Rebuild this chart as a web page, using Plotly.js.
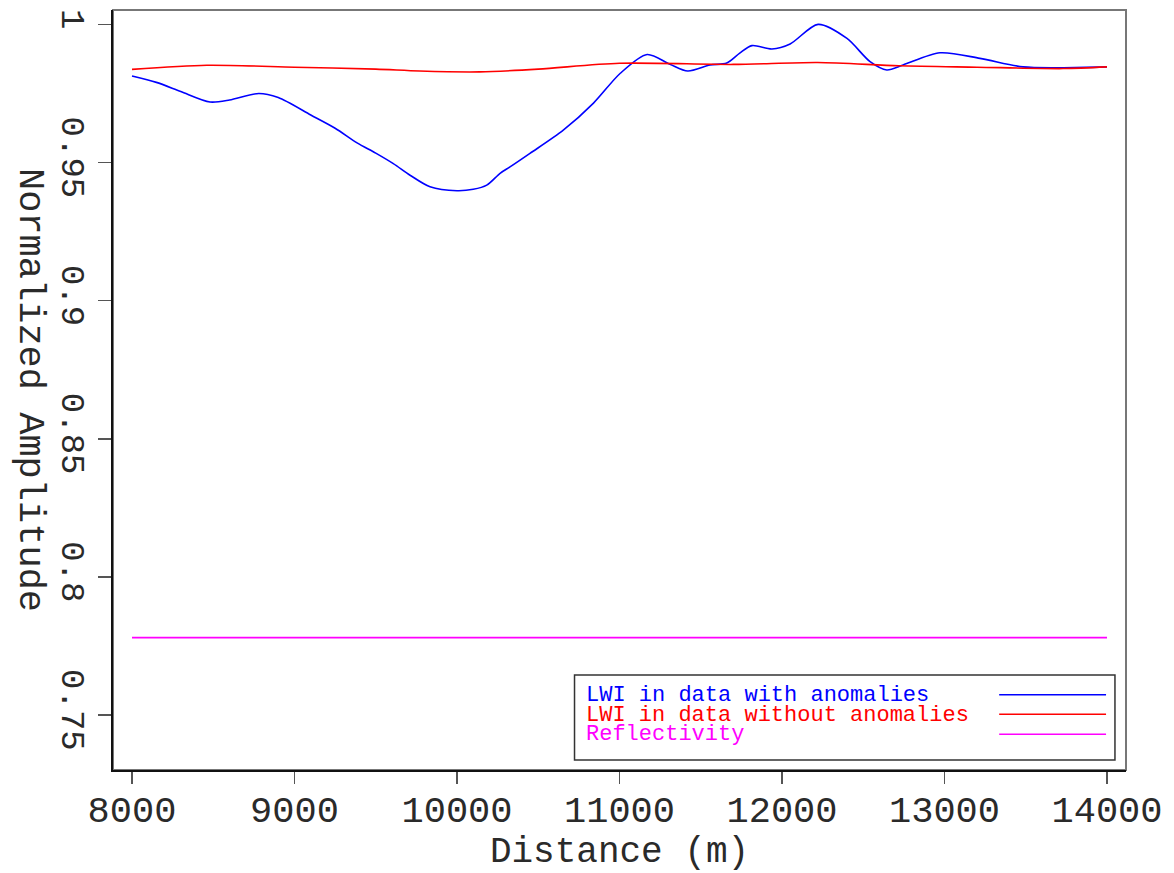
<!DOCTYPE html>
<html>
<head>
<meta charset="utf-8">
<script src="https://cdn.plot.ly/plotly-3.0.1.min.js"></script>
<style>html,body{margin:0;padding:0;background:#fff;}#chart{width:1174px;height:873px;}</style>
</head>
<body>
<div id="chart"></div>
<script>
// ---- data ----
const seriesNames = ["LWI in data with anomalies", "LWI in data without anomalies", "Reflectivity"];
const seriesColors = ["#0000ff", "#ff0000", "#ff00ff"];

const xWith = [8000, 8150, 8300, 8480, 8600, 8780, 8900, 9100, 9250, 9385, 9500, 9608, 9711, 9834, 10000, 10100, 10183, 10265, 10326, 10449, 10654, 10840, 11005, 11170, 11310, 11420, 11557, 11660, 11740, 11815, 11938, 12050, 12222, 12400, 12542, 12645, 12745, 12972, 13218, 13483, 13730, 14000];
const yWith = [0.9813, 0.9790, 0.9757, 0.9719, 0.9726, 0.9750, 0.9735, 0.9672, 0.9624, 0.9571, 0.9534, 0.9496, 0.9454, 0.9412, 0.9398, 0.9403, 0.9418, 0.9461, 0.9484, 0.9533, 0.9617, 0.9715, 0.9823, 0.9891, 0.9856, 0.9831, 0.9853, 0.9860, 0.9896, 0.9923, 0.9911, 0.9929, 1.0000, 0.9949, 0.9865, 0.9835, 0.9853, 0.9897, 0.9877, 0.9846, 0.9843, 0.9846];

const xWithout = [8000, 8460, 9000, 9500, 9770, 10140, 10500, 11000, 11700, 12220, 12720, 13200, 13730, 14000];
const yWithout = [0.9837, 0.9852, 0.9845, 0.9838, 0.9831, 0.9828, 0.9838, 0.9859, 0.9855, 0.9862, 0.9850, 0.9845, 0.9840, 0.9846];

const xRefl = [8000, 14000];
const yRefl = [0.778, 0.778];

const xTickVals = [8000, 9000, 10000, 11000, 12000, 13000, 14000];
const xTickText = ["8000", "9000", "10000", "11000", "12000", "13000", "14000"];
const yTickVals = [0.75, 0.8, 0.85, 0.9, 0.95, 1];
const yTickText = ["0.75", "0.8", "0.85", "0.9", "0.95", "1"];

const xTitle = "Distance (m)";
const yTitle = "Normalized Amplitude";

// ---- chart ----
const FONT = "Liberation Mono, DejaVu Sans Mono, monospace";
const TXT = "#2a2a2a";
const xs = [xWith, xWithout, xRefl];
const ys = [yWith, yWithout, yRefl];
const traces = xs.map((x, i) => ({
  x: x, y: ys[i], type: "scatter", mode: "lines", name: seriesNames[i],
  line: {color: seriesColors[i], width: 1.6, shape: "spline", smoothing: 0.8},
  showlegend: false
}));

// custom legend (text left, sample line right) built from the series arrays
const legX0 = 0.4556, legX1 = 0.9891, legY0 = 0.0132, legY1 = 0.125;
const rowY = [0.098, 0.0723, 0.0461];
const shapes = [
  {type: "rect", xref: "paper", yref: "paper", x0: 0, x1: 1, y0: 0, y1: 1, line: {color: "#777", width: 2}, layer: "below"},
  {type: "rect", xref: "paper", yref: "paper", x0: legX0, x1: legX1, y0: legY0, y1: legY1, line: {color: "#333", width: 1.5}, fillcolor: "rgba(0,0,0,0)"}
];
const annotations = [];
seriesNames.forEach((n, i) => {
  annotations.push({xref: "paper", yref: "paper", x: 0.4655, y: rowY[i], xanchor: "left", yanchor: "middle",
    text: n, showarrow: false, borderpad: 0, font: {family: FONT, size: 22, color: seriesColors[i]}});
  shapes.push({type: "line", xref: "paper", yref: "paper", x0: 0.8748, x1: 0.9803, y0: rowY[i] + 0.001, y1: rowY[i] + 0.001,
    line: {color: seriesColors[i], width: 1.6}});
});
annotations.push({xref: "paper", yref: "paper", x: -0.0819, y: 0.5, xanchor: "center", yanchor: "middle",
  text: yTitle, textangle: 90, showarrow: false, font: {family: FONT, size: 37, color: TXT}});

const layout = {
  width: 1174, height: 873,
  margin: {l: 113, r: 48, t: 10, b: 103},
  paper_bgcolor: "#fff", plot_bgcolor: "#fff",
  font: {family: FONT, color: TXT},
  showlegend: false,
  xaxis: {
    range: [7883, 14117], tickvals: xTickVals, ticktext: xTickText,
    ticks: "outside", ticklen: 12, tickwidth: 1.5, tickcolor: "#555",
    showline: true, linecolor: "#111", linewidth: 2, mirror: false,
    showgrid: false, zeroline: false, ticklabelstandoff: -6,
    tickfont: {family: FONT, size: 37, color: TXT},
    title: {text: xTitle, font: {family: FONT, size: 36, color: TXT}, standoff: 14}
  },
  yaxis: {
    range: [0.7301, 1.0052], tickvals: yTickVals, ticktext: yTickText,
    ticks: "outside", ticklen: 13, tickwidth: 1.5, tickcolor: "#555",
    showline: true, linecolor: "#111", linewidth: 2, mirror: false,
    showgrid: false, zeroline: false, tickangle: 90, ticklabelstandoff: -5,
    tickfont: {family: FONT, size: 34, color: TXT}
  },
  shapes: shapes,
  annotations: annotations
};

Plotly.newPlot("chart", traces, layout, {displayModeBar: false, staticPlot: true});
</script>
</body>
</html>
